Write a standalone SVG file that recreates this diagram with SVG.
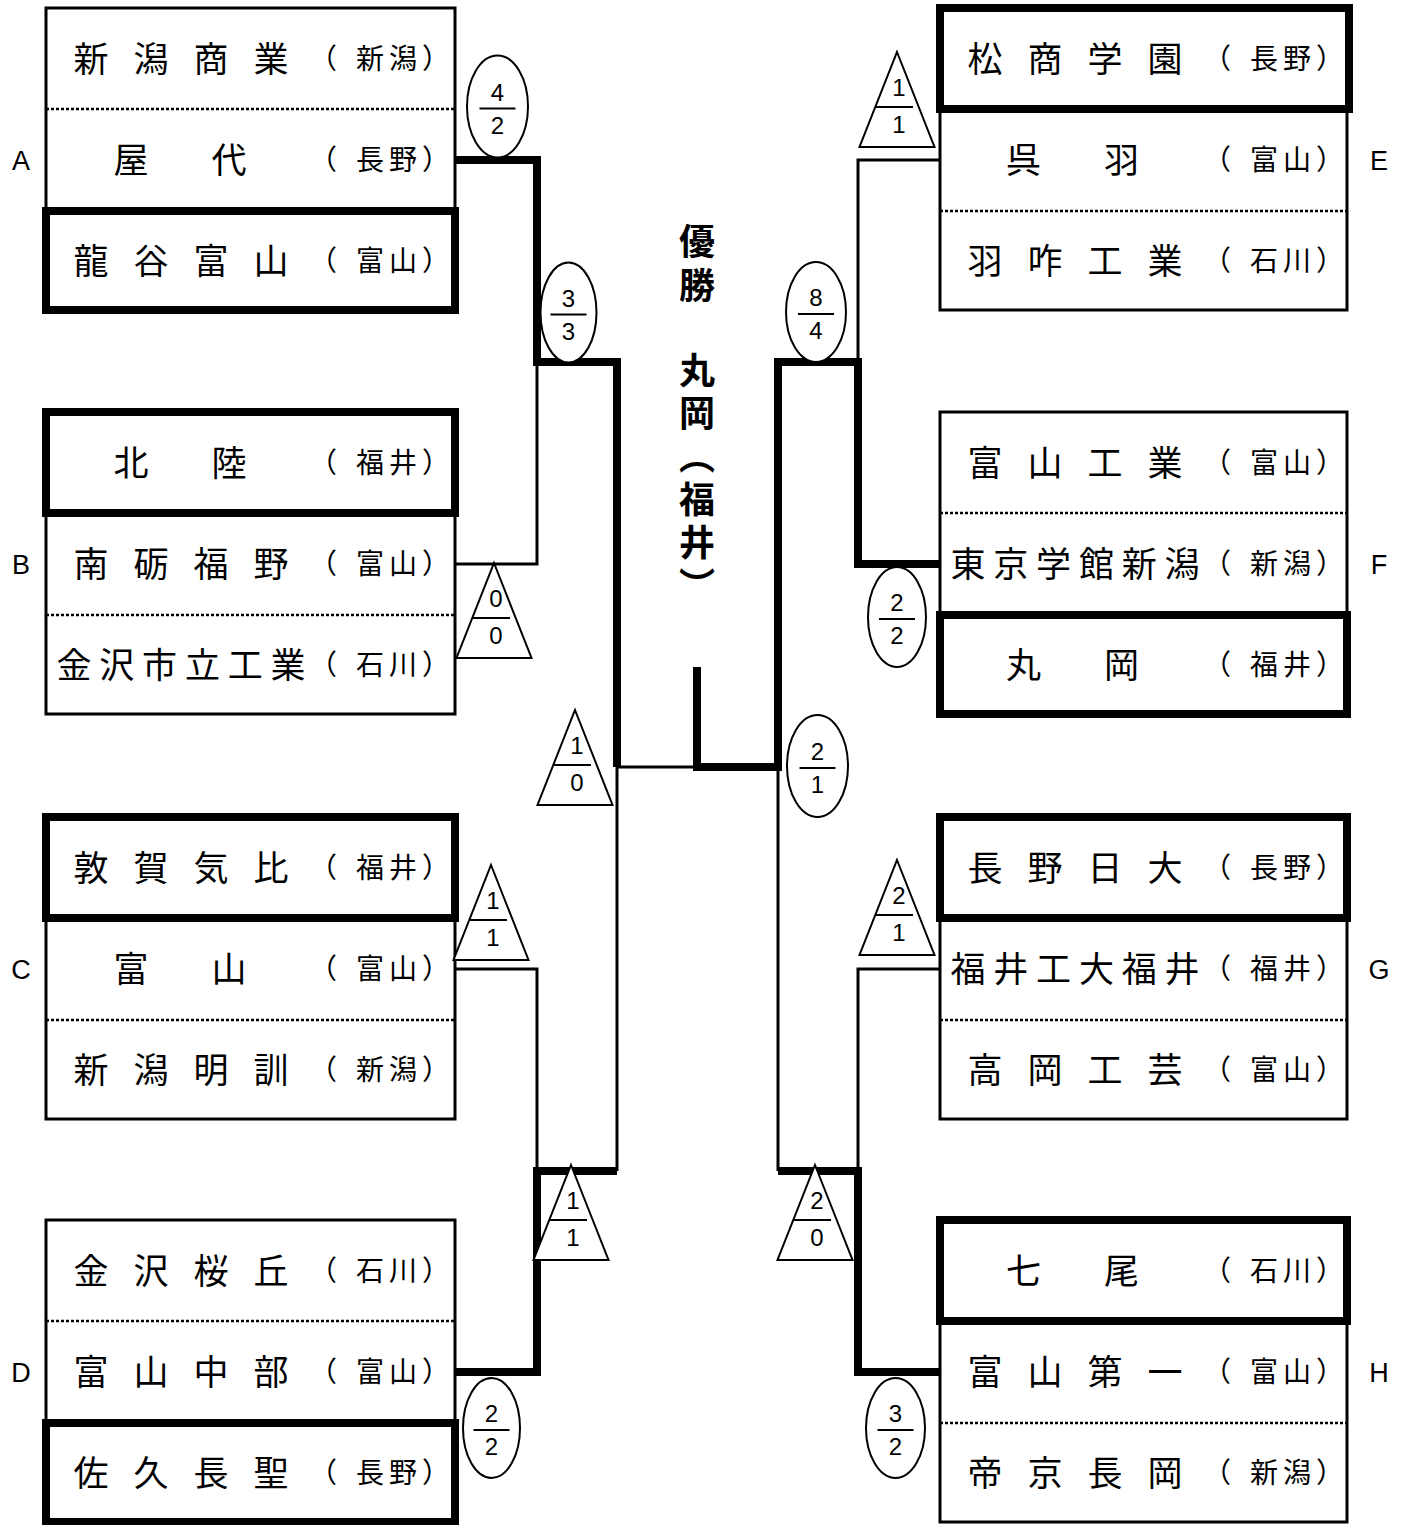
<svg xmlns="http://www.w3.org/2000/svg" width="1407" height="1525" viewBox="0 0 1407 1525">
<style>
.box{fill:#fff;stroke:#000;stroke-width:3}
.win{fill:none;stroke:#000;stroke-width:8}
.dot{stroke:#000;stroke-width:2.5;stroke-dasharray:3 2}
.nm{font-family:"Noto Sans CJK JP","Noto Sans CJK SC",sans-serif;font-size:35px;fill:#000}
.n4{letter-spacing:25px}
.n6{letter-spacing:7.8px}
.n2{letter-spacing:63px}
.pf{font-family:"Noto Sans CJK JP","Noto Sans CJK SC",sans-serif;font-size:28px;fill:#000}
.lb{font-family:"Liberation Sans",Arial,sans-serif;font-size:27px;text-anchor:middle;fill:#000}
.thin{fill:none;stroke:#000;stroke-width:3}
.thick{fill:none;stroke:#000;stroke-width:8;stroke-linejoin:miter}
.bdg{fill:#fff;stroke:#000;stroke-width:2}
.fr{stroke:#000;stroke-width:2}
.num{font-family:"Liberation Sans",Arial,sans-serif;font-size:24px;text-anchor:middle;fill:#000}
.ctr{font-family:"Noto Sans CJK JP","Noto Sans CJK SC",sans-serif;font-size:36px;font-weight:700;writing-mode:vertical-rl;fill:#000}
</style>
<defs>
<path id="tri" d="M0,0 L37.5,95 L-37.5,95 Z"/>
</defs>

<!-- Block A -->
<g id="blockA" transform="translate(46,8)">
  <rect class="box" x="0" y="0" width="409" height="302"/>
  <line class="dot" x1="0" y1="101" x2="409" y2="101"/>
  <g id="team-niigatashogyo"><text class="nm n4" x="27.5" y="64">新潟商業</text><text class="pf" x="263 310 343 376" y="61">（新潟）</text></g>
  <g id="team-yashiro"><text class="nm n2" x="67.5" y="165">屋代</text><text class="pf" x="263 310 343 376" y="162">（長野）</text></g>
  <g id="team-ryukokutoyama"><rect class="win" x="0" y="203" width="409" height="99"/><text class="nm n4" x="27.5" y="266">龍谷富山</text><text class="pf" x="263 310 343 376" y="263">（富山）</text></g>
</g>
<!-- Block B -->
<g id="blockB" transform="translate(46,412)">
  <rect class="box" x="0" y="0" width="409" height="302"/>
  <line class="dot" x1="0" y1="203" x2="409" y2="203"/>
  <g id="team-hokuriku"><rect class="win" x="0" y="0" width="409" height="101"/><text class="nm n2" x="67.5" y="64">北陸</text><text class="pf" x="263 310 343 376" y="61">（福井）</text></g>
  <g id="team-nantofukuno"><text class="nm n4" x="27.5" y="165">南砺福野</text><text class="pf" x="263 310 343 376" y="162">（富山）</text></g>
  <g id="team-kanazawashiritsu"><text class="nm n6" x="10.5" y="266">金沢市立工業</text><text class="pf" x="263 310 343 376" y="263">（石川）</text></g>
</g>
<!-- Block C -->
<g id="blockC" transform="translate(46,817)">
  <rect class="box" x="0" y="0" width="409" height="302"/>
  <line class="dot" x1="0" y1="203" x2="409" y2="203"/>
  <g id="team-tsurugakehi"><rect class="win" x="0" y="0" width="409" height="101"/><text class="nm n4" x="27.5" y="64">敦賀気比</text><text class="pf" x="263 310 343 376" y="61">（福井）</text></g>
  <g id="team-toyama"><text class="nm n2" x="67.5" y="165">富山</text><text class="pf" x="263 310 343 376" y="162">（富山）</text></g>
  <g id="team-niigatameikun"><text class="nm n4" x="27.5" y="266">新潟明訓</text><text class="pf" x="263 310 343 376" y="263">（新潟）</text></g>
</g>
<!-- Block D -->
<g id="blockD" transform="translate(46,1220)">
  <rect class="box" x="0" y="0" width="409" height="302"/>
  <line class="dot" x1="0" y1="101" x2="409" y2="101"/>
  <g id="team-kanazawaohka"><text class="nm n4" x="27.5" y="64">金沢桜丘</text><text class="pf" x="263 310 343 376" y="61">（石川）</text></g>
  <g id="team-toyamachubu"><text class="nm n4" x="27.5" y="165">富山中部</text><text class="pf" x="263 310 343 376" y="162">（富山）</text></g>
  <g id="team-sakuchosei"><rect class="win" x="0" y="203" width="409" height="99"/><text class="nm n4" x="27.5" y="266">佐久長聖</text><text class="pf" x="263 310 343 376" y="263">（長野）</text></g>
</g>
<!-- Block E -->
<g id="blockE" transform="translate(940,8)">
  <rect class="box" x="0" y="0" width="407" height="302"/>
  <line class="dot" x1="0" y1="203" x2="407" y2="203"/>
  <g id="team-matsushogakuen"><rect class="win" x="0" y="0" width="409" height="101"/><text class="nm n4" x="27.5" y="64">松商学園</text><text class="pf" x="263 310 343 376" y="61">（長野）</text></g>
  <g id="team-kureha"><text class="nm n2" x="66" y="165">呉羽</text><text class="pf" x="263 310 343 376" y="162">（富山）</text></g>
  <g id="team-hakuikogyo"><text class="nm n4" x="27.5" y="266">羽咋工業</text><text class="pf" x="263 310 343 376" y="263">（石川）</text></g>
</g>
<!-- Block F -->
<g id="blockF" transform="translate(940,412)">
  <rect class="box" x="0" y="0" width="407" height="302"/>
  <line class="dot" x1="0" y1="101" x2="407" y2="101"/>
  <g id="team-toyamakogyo"><text class="nm n4" x="27.5" y="64">富山工業</text><text class="pf" x="263 310 343 376" y="61">（富山）</text></g>
  <g id="team-tokyogakkan"><text class="nm n6" x="10.5" y="165">東京学館新潟</text><text class="pf" x="263 310 343 376" y="162">（新潟）</text></g>
  <g id="team-maruoka"><rect class="win" x="0" y="203" width="407" height="99"/><text class="nm n2" x="66" y="266">丸岡</text><text class="pf" x="263 310 343 376" y="263">（福井）</text></g>
</g>
<!-- Block G -->
<g id="blockG" transform="translate(940,817)">
  <rect class="box" x="0" y="0" width="407" height="302"/>
  <line class="dot" x1="0" y1="203" x2="407" y2="203"/>
  <g id="team-naganonichidai"><rect class="win" x="0" y="0" width="407" height="101"/><text class="nm n4" x="27.5" y="64">長野日大</text><text class="pf" x="263 310 343 376" y="61">（長野）</text></g>
  <g id="team-fukuikodai"><text class="nm n6" x="10.5" y="165">福井工大福井</text><text class="pf" x="263 310 343 376" y="162">（福井）</text></g>
  <g id="team-takaokakogei"><text class="nm n4" x="27.5" y="266">高岡工芸</text><text class="pf" x="263 310 343 376" y="263">（富山）</text></g>
</g>
<!-- Block H -->
<g id="blockH" transform="translate(940,1220)">
  <rect class="box" x="0" y="0" width="407" height="302"/>
  <line class="dot" x1="0" y1="203" x2="407" y2="203"/>
  <g id="team-nanao"><rect class="win" x="0" y="0" width="407" height="101"/><text class="nm n2" x="66" y="64">七尾</text><text class="pf" x="263 310 343 376" y="61">（石川）</text></g>
  <g id="team-toyamadaiichi"><text class="nm n4" x="27.5" y="165">富山第一</text><text class="pf" x="263 310 343 376" y="162">（富山）</text></g>
  <g id="team-teikyonagaoka"><text class="nm n4" x="27.5" y="266">帝京長岡</text><text class="pf" x="263 310 343 376" y="263">（新潟）</text></g>
</g>

<!-- Block letters -->
<g id="letters">
  <text class="lb" x="21" y="170">A</text>
  <text class="lb" x="21" y="574">B</text>
  <text class="lb" x="21" y="979">C</text>
  <text class="lb" x="21" y="1382">D</text>
  <text class="lb" x="1379" y="170">E</text>
  <text class="lb" x="1379" y="574">F</text>
  <text class="lb" x="1379" y="979">G</text>
  <text class="lb" x="1379" y="1382">H</text>
</g>

<!-- Champion -->
<g id="champion">
  <text class="ctr" x="697" y="223" style="letter-spacing:8px">優勝</text>
  <text class="ctr" x="697" y="352" style="letter-spacing:7px">丸岡（福井）</text>
</g>

<!-- Connectors -->
<g id="connectors">
  <path class="thin" d="M455,564 H537 V362"/>
  <path class="thin" d="M455,969 H537 V1171"/>
  <path class="thin" d="M617,1171 V767 H697"/>
  <path class="thin" d="M940,160 H858 V362"/>
  <path class="thin" d="M778,767 V1171"/>
  <path class="thin" d="M940,969 H858 V1171"/>
  <path class="thick" d="M455,160 H537 V362 H617 V767"/>
  <path class="thick" d="M455,1372 H537 V1171 H617"/>
  <path class="thick" d="M697,667 V767 H778 V362 H858 V564 H940"/>
  <path class="thick" d="M778,1171 H858 V1372 H940"/>
</g>

<!-- Score badges -->
<g id="score-A">
  <ellipse class="bdg" cx="497.5" cy="106.5" rx="30.5" ry="51"/>
  <text class="num" x="497.5" y="100.5">4</text><line class="fr" x1="479.5" y1="108.5" x2="515.5" y2="108.5"/><text class="num" x="497.5" y="133.5">2</text>
</g>
<g id="score-AB">
  <ellipse class="bdg" cx="568.5" cy="312.5" rx="28" ry="50"/>
  <text class="num" x="568.5" y="306.5">3</text><line class="fr" x1="550.5" y1="314.5" x2="586.5" y2="314.5"/><text class="num" x="568.5" y="339.5">3</text>
</g>
<g id="score-D">
  <ellipse class="bdg" cx="491.5" cy="1428" rx="28.5" ry="50"/>
  <text class="num" x="491.5" y="1422">2</text><line class="fr" x1="473.5" y1="1430" x2="509.5" y2="1430"/><text class="num" x="491.5" y="1455">2</text>
</g>
<g id="score-EF">
  <ellipse class="bdg" cx="816" cy="312" rx="30" ry="50"/>
  <text class="num" x="816" y="306">8</text><line class="fr" x1="798" y1="314" x2="834" y2="314"/><text class="num" x="816" y="339">4</text>
</g>
<g id="score-F">
  <ellipse class="bdg" cx="897" cy="617" rx="29" ry="50"/>
  <text class="num" x="897" y="611">2</text><line class="fr" x1="879" y1="619" x2="915" y2="619"/><text class="num" x="897" y="644">2</text>
</g>
<g id="score-final">
  <ellipse class="bdg" cx="817.5" cy="766" rx="30.5" ry="51"/>
  <text class="num" x="817.5" y="760">2</text><line class="fr" x1="799.5" y1="768" x2="835.5" y2="768"/><text class="num" x="817.5" y="793">1</text>
</g>
<g id="score-H">
  <ellipse class="bdg" cx="895.5" cy="1428" rx="29.5" ry="50"/>
  <text class="num" x="895.5" y="1422">3</text><line class="fr" x1="877.5" y1="1430" x2="913.5" y2="1430"/><text class="num" x="895.5" y="1455">2</text>
</g>
<g id="score-B" transform="translate(494,563)">
  <use href="#tri" class="bdg"/>
  <text class="num" x="2" y="44">0</text><line class="fr" x1="-21" y1="55" x2="16" y2="55"/><text class="num" x="2" y="81">0</text>
</g>
<g id="score-semiL" transform="translate(575,710)">
  <use href="#tri" class="bdg"/>
  <text class="num" x="2" y="44">1</text><line class="fr" x1="-21" y1="55" x2="16" y2="55"/><text class="num" x="2" y="81">0</text>
</g>
<g id="score-C" transform="translate(491,865)">
  <use href="#tri" class="bdg"/>
  <text class="num" x="2" y="44">1</text><line class="fr" x1="-21" y1="55" x2="16" y2="55"/><text class="num" x="2" y="81">1</text>
</g>
<g id="score-CD" transform="translate(571,1165)">
  <use href="#tri" class="bdg"/>
  <text class="num" x="2" y="44">1</text><line class="fr" x1="-21" y1="55" x2="16" y2="55"/><text class="num" x="2" y="81">1</text>
</g>
<g id="score-E" transform="translate(897,52)">
  <use href="#tri" class="bdg"/>
  <text class="num" x="2" y="44">1</text><line class="fr" x1="-21" y1="55" x2="16" y2="55"/><text class="num" x="2" y="81">1</text>
</g>
<g id="score-G" transform="translate(897,860)">
  <use href="#tri" class="bdg"/>
  <text class="num" x="2" y="44">2</text><line class="fr" x1="-21" y1="55" x2="16" y2="55"/><text class="num" x="2" y="81">1</text>
</g>
<g id="score-GH" transform="translate(815,1165)">
  <use href="#tri" class="bdg"/>
  <text class="num" x="2" y="44">2</text><line class="fr" x1="-21" y1="55" x2="16" y2="55"/><text class="num" x="2" y="81">0</text>
</g>
</svg>
